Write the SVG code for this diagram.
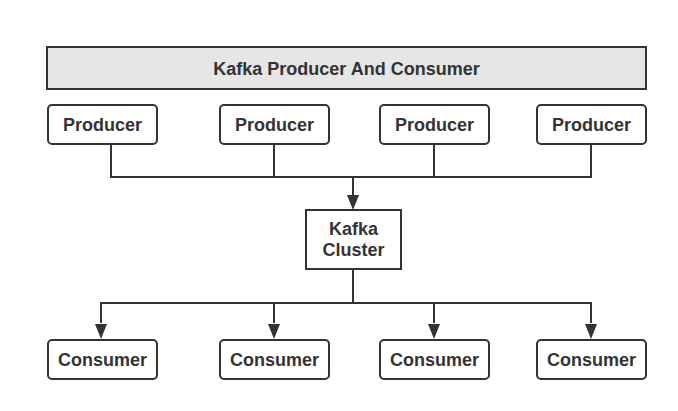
<svg xmlns="http://www.w3.org/2000/svg" width="678" height="411" viewBox="0 0 678 411">
<style>
.box{fill:#fff;stroke:#333;stroke-width:2}
.t{font-family:"Liberation Sans",Arial,sans-serif;font-size:18px;font-weight:bold;fill:#333;text-anchor:middle;dominant-baseline:central}
.c{fill:none;stroke:#333;stroke-width:2}
.ah{fill:#333}
</style>
<rect width="678" height="411" fill="#fff"/>
<g id="title"><rect x="47" y="47" width="599" height="42" fill="#e6e6e6" stroke="#333" stroke-width="2"/><text class="t" x="346.5" y="68.5">Kafka Producer And Consumer</text></g>
<g id="producer1"><rect class="box" x="48" y="105" width="109" height="39" rx="4"/><text class="t" x="102.5" y="124.5">Producer</text></g>
<g id="producer2"><rect class="box" x="220" y="105" width="109" height="39" rx="4"/><text class="t" x="274.5" y="124.5">Producer</text></g>
<g id="producer3"><rect class="box" x="380" y="105" width="109" height="39" rx="4"/><text class="t" x="434.5" y="124.5">Producer</text></g>
<g id="producer4"><rect class="box" x="537" y="105" width="109" height="39" rx="4"/><text class="t" x="591.5" y="124.5">Producer</text></g>
<g id="cluster"><rect class="box" x="306" y="210" width="95" height="59"/><text class="t" x="353.5" y="229">Kafka</text><text class="t" x="353.5" y="250">Cluster</text></g>
<g id="consumer1"><rect class="box" x="48" y="340" width="109" height="39" rx="4"/><text class="t" x="102.5" y="359.5">Consumer</text></g>
<g id="consumer2"><rect class="box" x="220" y="340" width="109" height="39" rx="4"/><text class="t" x="274.5" y="359.5">Consumer</text></g>
<g id="consumer3"><rect class="box" x="380" y="340" width="109" height="39" rx="4"/><text class="t" x="434.5" y="359.5">Consumer</text></g>
<g id="consumer4"><rect class="box" x="537" y="340" width="109" height="39" rx="4"/><text class="t" x="591.5" y="359.5">Consumer</text></g>
<g id="connectors">
<path class="c" d="M111,145 V177 H591 V145 M274,145 V177 M434,145 V177"/>
<path d="M353,177 V197" class="c"/>
<path class="ah" d="M347,195 L359,195 L353,210 Z"/>
<path class="c" d="M353,270 V303 M101,323 V303 H591 V323 M274,303 V323 M434,303 V323"/>
<path class="ah" d="M95,324 L107,324 L101,339 Z"/>
<path class="ah" d="M268,324 L280,324 L274,339 Z"/>
<path class="ah" d="M428,324 L440,324 L434,339 Z"/>
<path class="ah" d="M585,324 L597,324 L591,339 Z"/>
</g>
</svg>
